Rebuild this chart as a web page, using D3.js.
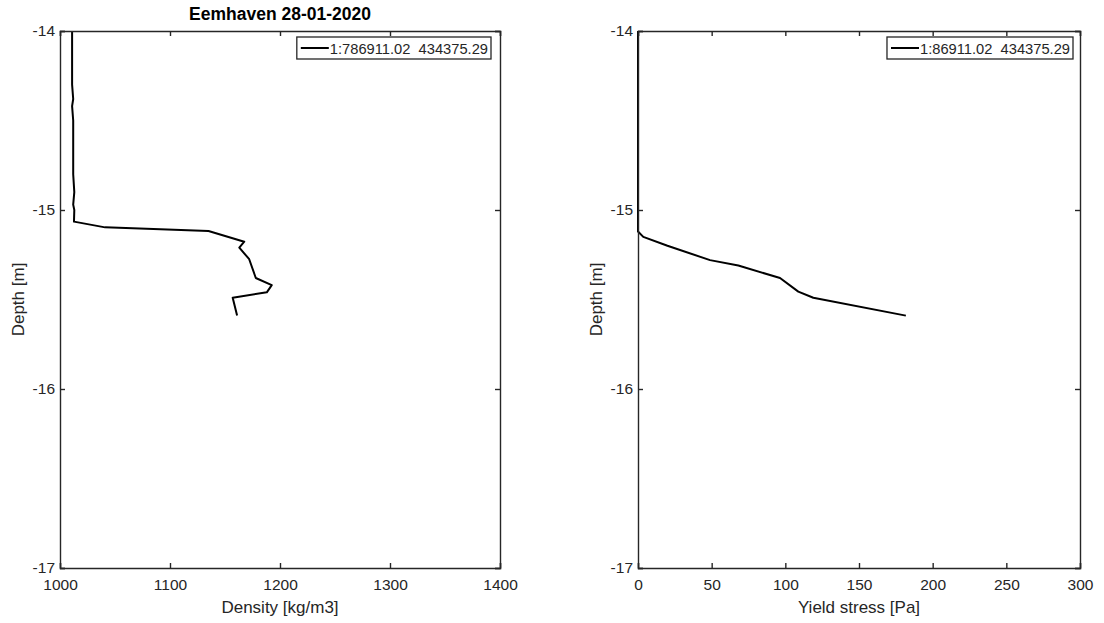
<!DOCTYPE html>
<html>
<head>
<meta charset="utf-8">
<script src="https://cdn.jsdelivr.net/npm/d3@7"></script>
<style>
  html, body { margin: 0; padding: 0; background: #fff; }
  svg { display: block; font-family: "Liberation Sans", Arial, Helvetica, sans-serif; }
</style>
</head>
<body>
<svg id="chart" width="1104" height="623"></svg>
<script>
// ---- data ----
const titleText = "Eemhaven 28-01-2020";

const densityDepth = [-14.00, -14.10, -14.20, -14.30, -14.38, -14.42, -14.50, -14.60, -14.70, -14.80, -14.90, -14.97, -15.00, -15.065, -15.097, -15.117, -15.177, -15.21, -15.275, -15.38, -15.42, -15.46, -15.49, -15.59];
const densityValue = [1011, 1011, 1011, 1011, 1012, 1011, 1012, 1012, 1012, 1012, 1013, 1012, 1013, 1012.7, 1041, 1135, 1167.5, 1163, 1172, 1178, 1192.5, 1188, 1157, 1161];

const stressDepth = [-14.00, -15.12, -15.15, -15.20, -15.28, -15.31, -15.38, -15.456, -15.49, -15.59];
const stressValue = [0, 0, 3.6, 20, 48.9, 68.1, 96.4, 108.8, 119, 181.8];

const densityTicks = [1000, 1100, 1200, 1300, 1400];
const stressTicks = [0, 50, 100, 150, 200, 250, 300];
const depthTicks = [-14, -15, -16, -17];

const legendLeft = "1:786911.02  434375.29";
const legendRight = "1:86911.02  434375.29";

// ---- layout ----
const svg = d3.select("#chart");
const axColor = "#262626";
const plotTop = 31, plotBottom = 568;

const panels = [
  { x0: 60, x1: 500, domain: [1000, 1400], ticks: densityTicks, xs: densityValue, ys: densityDepth,
    xlabel: "Density [kg/m3]", legend: legendLeft, legendRight: 491, title: titleText },
  { x0: 638, x1: 1080, domain: [0, 300], ticks: stressTicks, xs: stressValue, ys: stressDepth,
    xlabel: "Yield stress [Pa]", legend: legendRight, legendRight: 1073, title: null }
];

const y = d3.scaleLinear().domain([-17, -14]).range([plotBottom, plotTop]);
const fmt = d => String(d);

panels.forEach(p => {
  const x = d3.scaleLinear().domain(p.domain).range([p.x0, p.x1]);
  const g = svg.append("g");

  // curve
  const pts = p.xs.map((v, i) => [v, p.ys[i]]);
  g.append("path")
    .datum(pts)
    .attr("fill", "none")
    .attr("stroke", "#000")
    .attr("stroke-width", 2)
    .attr("stroke-linejoin", "round")
    .attr("d", d3.line().x(d => x(d[0])).y(d => y(d[1])));

  const xb = g.append("g").attr("transform", `translate(0,${plotBottom})`)
    .call(d3.axisBottom(x).tickValues(p.ticks).tickSize(-5).tickPadding(11).tickFormat(fmt));
  const xt = g.append("g").attr("transform", `translate(0,${plotTop})`)
    .call(d3.axisTop(x).tickValues(p.ticks).tickSize(-5).tickFormat(""));
  const yl = g.append("g").attr("transform", `translate(${p.x0},0)`)
    .call(d3.axisLeft(y).tickValues(depthTicks).tickSize(-5).tickPadding(5).tickFormat(fmt));
  const yr = g.append("g").attr("transform", `translate(${p.x1},0)`)
    .call(d3.axisRight(y).tickValues(depthTicks).tickSize(-5).tickFormat(""));

  [xb, xt, yl, yr].forEach(a => {
    a.attr("font-size", null).attr("font-family", null);
    a.select(".domain").attr("stroke", axColor).attr("stroke-width", 1.4);
    a.selectAll(".tick line").attr("stroke", axColor).attr("stroke-width", 1.4);
    a.selectAll(".tick text").attr("fill", axColor).style("font-size", "15.5px");
  });

  g.append("text")
    .attr("x", (p.x0 + p.x1) / 2).attr("y", 613)
    .attr("text-anchor", "middle")
    .attr("fill", axColor).style("font-size", "17px")
    .text(p.xlabel);
  g.append("text")
    .attr("transform", `translate(${p.x0 - 36},${(plotTop + plotBottom) / 2}) rotate(-90)`)
    .attr("text-anchor", "middle")
    .attr("fill", axColor).style("font-size", "17px")
    .text("Depth [m]");

  if (p.title) {
    g.append("text")
      .attr("x", (p.x0 + p.x1) / 2).attr("y", 20)
      .attr("text-anchor", "middle")
      .attr("fill", "#000").style("font-size", "17.5px").style("font-weight", "bold")
      .text(p.title);
  }

  // legend (box sized to its text)
  const ly = 37, lh = 22;
  const lg = g.append("g");
  const rect = lg.append("rect");
  const txt = lg.append("text").attr("y", ly + lh / 2 + 5.5)
    .attr("fill", axColor).style("font-size", "14.7px")
    .attr("xml:space", "preserve").style("white-space", "pre")
    .text(p.legend);
  const tw = txt.node().getComputedTextLength();
  const lw = tw + 36;
  const lx = p.legendRight - lw;
  txt.attr("x", lx + 33);
  rect.attr("x", lx).attr("y", ly).attr("width", lw).attr("height", lh)
    .attr("fill", "#fff").attr("stroke", axColor).attr("stroke-width", 1.3);
  lg.append("line").attr("x1", lx + 4).attr("x2", lx + 32).attr("y1", ly + lh / 2).attr("y2", ly + lh / 2)
    .attr("stroke", "#000").attr("stroke-width", 2);
});
</script>
</body>
</html>
